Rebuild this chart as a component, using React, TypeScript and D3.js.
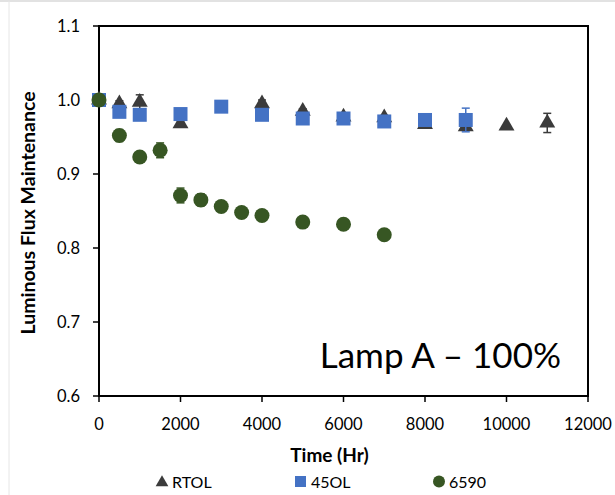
import React from "react";
import * as d3 from "d3";

const rtolX = [0, 500, 1000, 2000, 4000, 5000, 6000, 7000, 8000, 9000, 10000, 11000];
const rtolY = [1.0, 0.995, 0.997, 0.968, 0.995, 0.985, 0.977, 0.976, 0.967, 0.964, 0.965, 0.969];
const rtolErr = [0, 0.004, 0.01, 0.004, 0.005, 0.003, 0.003, 0.003, 0.003, 0.003, 0, 0.013];

const olX = [0, 500, 1000, 2000, 3000, 4000, 5000, 6000, 7000, 8000, 9000];
const olY = [1.0, 0.984, 0.98, 0.981, 0.991, 0.98, 0.975, 0.975, 0.971, 0.973, 0.973];
const olErr = [0, 0.003, 0.003, 0.003, 0.002, 0.003, 0.003, 0.003, 0.003, 0.003, 0.016];

const gX = [0, 500, 1000, 1500, 2000, 2500, 3000, 3500, 4000, 5000, 6000, 7000];
const gY = [1.0, 0.952, 0.923, 0.932, 0.871, 0.865, 0.856, 0.848, 0.844, 0.835, 0.832, 0.818];
const gErr = [0, 0.008, 0.004, 0.01, 0.01, 0.008, 0.003, 0.003, 0.003, 0.003, 0.003, 0.003];

const xTicks = [0, 2000, 4000, 6000, 8000, 10000, 12000];
const yTicks = [0.6, 0.7, 0.8, 0.9, 1.0, 1.1];

const C_TRI = "#3b3b3b";
const C_SQ = "#4472c4";
const C_CIR = "#375623";

export default function App() {
  const W = 615, H = 495;
  const L = 99, R = 588, T = 26, B = 396;
  const x = d3.scaleLinear().domain([0, 12000]).range([L, R]);
  const y = d3.scaleLinear().domain([0.6, 1.1]).range([B, T]);
  const font = "Lato, 'Open Sans', sans-serif";
  const tri = d3.symbol().type(d3.symbolTriangle).size(110)() as string;

  const errBars = (xs: number[], ys: number[], es: number[], color: string, key: string) =>
    xs.map((xv, i) =>
      es[i] > 0 ? (
        <g key={key + i} stroke={color} strokeWidth={1.5}>
          <line x1={x(xv)} x2={x(xv)} y1={y(ys[i] - es[i])} y2={y(ys[i] + es[i])} />
          <line x1={x(xv) - 4} x2={x(xv) + 4} y1={y(ys[i] + es[i])} y2={y(ys[i] + es[i])} />
          <line x1={x(xv) - 4} x2={x(xv) + 4} y1={y(ys[i] - es[i])} y2={y(ys[i] - es[i])} />
        </g>
      ) : null
    );

  return (
    <svg width={W} height={H} style={{ position: "absolute", left: 0, top: 0 }}>
      <rect width={W} height={H} fill="#fff" />
      <line x1={0} x2={W} y1={1} y2={1} stroke="#d9d9d9" strokeWidth={1.5} />
      <line x1={9} x2={9} y1={1} y2={H} stroke="#e6e6e6" strokeWidth={1} />
      {/* plot box */}
      <rect x={L} y={T} width={R - L} height={B - T} fill="none" stroke="#000" strokeWidth={2} />
      {yTicks.map((t) => (
        <g key={"y" + t}>
          <line x1={L - 6} x2={L} y1={y(t)} y2={y(t)} stroke="#000" strokeWidth={1.5} />
          <text x={L - 19} y={y(t)} dy="0.36em" textAnchor="end" fontSize={16.5} fontFamily={font} fill="#000">
            {t.toFixed(1)}
          </text>
        </g>
      ))}
      {xTicks.map((t) => (
        <g key={"x" + t}>
          <line x1={x(t)} x2={x(t)} y1={B} y2={B + 6} stroke="#000" strokeWidth={1.5} />
          <text x={x(t)} y={B + 34} textAnchor="middle" fontSize={16.5} fontFamily={font} fill="#000">
            {t}
          </text>
        </g>
      ))}
      <text
        transform={`translate(35,${(T + B) / 2 + 2}) rotate(-90)`}
        textAnchor="middle"
        fontSize={19.5}
        fontWeight="bold"
        fontFamily={font}
      >
        Luminous Flux Maintenance
      </text>
      <text x={(L + R) / 2 - 14} y={462} textAnchor="middle" fontSize={19} fontWeight="bold" fontFamily={font}>
        Time (Hr)
      </text>
      <text x={561} y={368} textAnchor="end" fontSize={35} fontFamily={font}>
        Lamp A – 100%
      </text>

      {/* series */}
      {errBars(rtolX, rtolY, rtolErr, C_TRI, "et")}
      {rtolX.map((xv, i) => (
        <path key={"t" + i} d={tri} transform={`translate(${x(xv)},${y(rtolY[i])})`} fill={C_TRI} />
      ))}
      {errBars(olX, olY, olErr, C_SQ, "es")}
      {olX.map((xv, i) => (
        <rect key={"s" + i} x={x(xv) - 7} y={y(olY[i]) - 7} width={14} height={14} fill={C_SQ} />
      ))}
      {errBars(gX, gY, gErr, C_CIR, "ec")}
      {gX.map((xv, i) => (
        <circle key={"c" + i} cx={x(xv)} cy={y(gY[i])} r={7.5} fill={C_CIR} />
      ))}

      {/* legend */}
      <g fontSize={16} fontFamily={font}>
        <path d={d3.symbol().type(d3.symbolTriangle).size(70)() as string} transform="translate(162,482.5)" fill={C_TRI} />
        <text x={172} y={488}>RTOL</text>
        <rect x={295} y={476} width={11} height={11} fill={C_SQ} />
        <text x={311} y={488}>45OL</text>
        <circle cx={439} cy={481.5} r={6} fill={C_CIR} />
        <text x={449} y={488}>6590</text>
      </g>
    </svg>
  );
}
